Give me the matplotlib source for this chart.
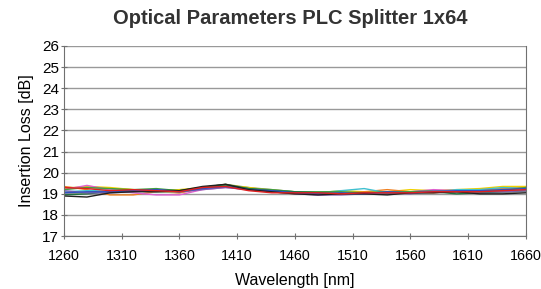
import matplotlib
matplotlib.use("Agg")
import matplotlib.pyplot as plt

plt.rcParams['font.family'] = ['Liberation Sans', 'DejaVu Sans']

wavelengths = list(range(1260, 1661, 20))

ch_red = [19.3, 19.25, 19.15, 19.2, 19.15, 19.1, 19.3, 19.35, 19.15, 19.05, 19.05, 19.05, 19.0, 19.05, 19.05, 19.05, 19.1, 19.1, 19.1, 19.15, 19.2]
ch_black = [18.9, 18.85, 19.05, 19.1, 19.1, 19.15, 19.35, 19.45, 19.2, 19.1, 19.0, 18.95, 19.0, 19.0, 18.95, 19.05, 19.05, 19.1, 19.0, 19.0, 19.05]
ch_blue = [19.05, 19.1, 19.1, 19.15, 19.2, 19.1, 19.25, 19.35, 19.2, 19.15, 19.05, 19.0, 19.05, 19.0, 19.1, 19.05, 19.1, 19.15, 19.15, 19.2, 19.25]
ch_green = [19.2, 19.3, 19.25, 19.2, 19.25, 19.15, 19.3, 19.4, 19.25, 19.2, 19.1, 19.1, 19.1, 19.05, 19.1, 19.1, 19.15, 19.1, 19.15, 19.15, 19.3]
ch_yellow = [19.25, 19.35, 19.3, 19.2, 19.15, 19.2, 19.3, 19.4, 19.3, 19.15, 19.05, 19.05, 19.15, 19.1, 19.1, 19.2, 19.15, 19.2, 19.25, 19.35, 19.35]
ch_orange = [19.35, 19.2, 18.95, 18.95, 19.1, 19.05, 19.25, 19.35, 19.2, 19.1, 19.0, 19.05, 19.0, 19.1, 19.2, 19.1, 19.05, 19.15, 19.2, 19.25, 19.3]
ch_magenta = [19.2, 19.4, 19.2, 19.05, 18.95, 18.95, 19.2, 19.3, 19.2, 19.1, 19.05, 18.95, 19.0, 19.05, 19.0, 19.1, 19.2, 19.15, 19.1, 19.15, 19.2]
ch_cyan = [19.1, 19.15, 19.2, 19.15, 19.1, 19.1, 19.3, 19.4, 19.25, 19.15, 19.1, 19.05, 19.15, 19.25, 19.05, 19.1, 19.1, 19.2, 19.2, 19.3, 19.25]
ch_purple = [19.15, 19.05, 19.05, 19.1, 19.2, 19.1, 19.2, 19.3, 19.2, 19.1, 19.0, 18.95, 18.95, 19.0, 19.05, 19.0, 19.15, 19.1, 19.1, 19.1, 19.15]
ch_gray = [19.0, 19.05, 19.1, 19.15, 19.15, 19.05, 19.25, 19.35, 19.2, 19.1, 19.05, 19.0, 19.05, 19.0, 19.1, 19.0, 19.05, 19.1, 19.05, 19.05, 19.1]
ch_olive = [19.3, 19.3, 19.25, 19.2, 19.1, 19.1, 19.3, 19.45, 19.3, 19.2, 19.1, 19.05, 19.05, 19.1, 19.0, 19.1, 19.1, 19.15, 19.2, 19.25, 19.3]
ch_dkgreen = [18.95, 19.0, 19.1, 19.15, 19.2, 19.15, 19.3, 19.45, 19.25, 19.15, 19.1, 19.05, 19.0, 19.05, 19.0, 19.05, 19.1, 19.0, 19.05, 19.1, 19.15]

channels = [
    (ch_gray, '#9a9a9a'),
    (ch_olive, '#a8a040'),
    (ch_yellow, '#f0d000'),
    (ch_orange, '#f08020'),
    (ch_cyan, '#40c0d0'),
    (ch_magenta, '#e060d0'),
    (ch_green, '#40a040'),
    (ch_dkgreen, '#207040'),
    (ch_purple, '#8060b0'),
    (ch_blue, '#3050c0'),
    (ch_black, '#202020'),
    (ch_red, '#e02020'),
]

fig = plt.figure(figsize=(5.41, 2.89), dpi=100)
ax = fig.add_axes([0.118, 0.183, 0.854, 0.658])

for vals, col in channels:
    ax.plot(wavelengths, vals, color=col, lw=1.0)

ax.set_xlim(1260, 1660)
ax.set_ylim(17, 26)
ax.set_xticks(range(1260, 1661, 50))
ax.set_yticks(range(17, 27))
ax.grid(True, axis='y', color='#999999', lw=1.0)
ax.set_axisbelow(True)
ax.spines['top'].set_visible(False)
for s in ['left', 'bottom', 'right']:
    ax.spines[s].set_color('#707070')
ax.tick_params(axis='y', direction='inout', length=5, color='#707070', labelsize=11, pad=1)
ax.tick_params(axis='x', direction='inout', length=5, color='#707070', labelsize=10.3, pad=7)

ax.set_xlabel('Wavelength [nm]', fontsize=11.5, labelpad=7)
ax.set_ylabel('Insertion Loss [dB]', fontsize=11.5, labelpad=6)
fig.text(0.536, 0.937, 'Optical Parameters PLC Splitter 1x64', ha='center',
         va='center', fontsize=14.5, fontweight='bold', color='#333333')

fig.savefig('out.png', dpi=100)
